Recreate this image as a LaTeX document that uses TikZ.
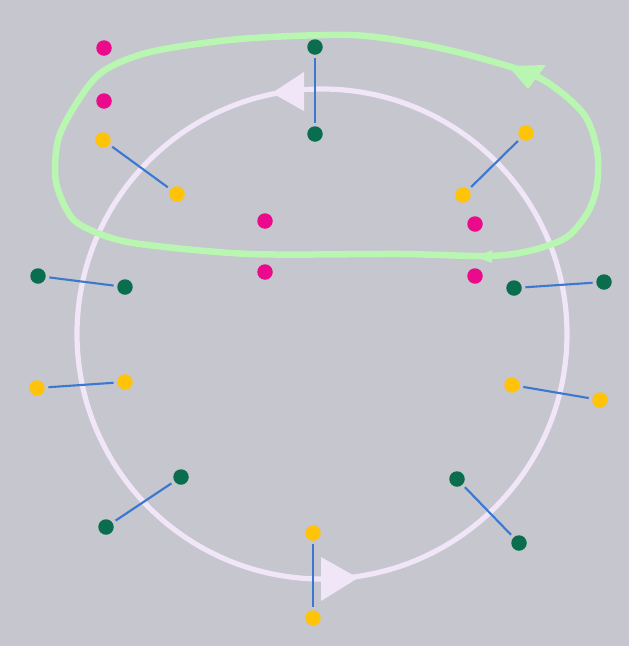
\documentclass[tikz,border=0pt]{standalone}
\usetikzlibrary{calc}
\definecolor{bg}{RGB}{197,198,206}
\definecolor{ringc}{RGB}{241,230,248}
\definecolor{loopc}{RGB}{185,246,177}
\definecolor{dgreen}{RGB}{10,110,78}
\definecolor{dyellow}{RGB}{255,195,10}
\definecolor{dmag}{RGB}{236,10,140}
\definecolor{linkc}{RGB}{58,120,210}
\tikzset{
  dot/.style={circle,inner sep=0pt,minimum size=15.5pt},
  gdot/.style={dot,fill=dgreen},
  ydot/.style={dot,fill=dyellow},
  mdot/.style={dot,fill=dmag},
  link/.style={draw=linkc,line width=2.1pt,shorten <=3.5pt,shorten >=3.5pt},
  ring/.style={draw=ringc,line width=5.2pt},
  ringtip/.style={fill=ringc},
  loopline/.style={draw=loopc,line width=6.5pt},
  looptip/.style={fill=loopc}
}
\begin{document}
\begin{tikzpicture}[x=1pt,y=-1pt]
\fill[bg] (0,0) rectangle (629,646);
\useasboundingbox (0,0) rectangle (629,646);
% big ring
\draw[ring] (322,334) circle[radius=245];
\fill[ringtip] (272,93) -- (304,72) -- (304,111) -- cycle;
\fill[ringtip] (358,578) -- (321,557) -- (321,601) -- cycle;
% green loop
\draw[loopline] plot[smooth cycle,tension=0.5] coordinates {
 (102,72) (150,52) (240,39) (350,35) (420,44) (480,58) (540,78) (583,113)
 (597,150) (597,185) (588,212) (567,237) (533,250) (490,256) (400,254)
 (250,254) (140,244) (100,234) (72,218) (56,182) (58,140) (76,104)};
\fill[looptip] (508,66) -- (546,65) -- (528,89) -- cycle;
\fill[looptip] (476,257) -- (492,250) -- (492,263) -- cycle;
% magenta dots
\node[mdot] (m1) at (104,48) {};
\node[mdot] (m2) at (104,101) {};
\node[mdot] (m3) at (265,221) {};
\node[mdot] (m4) at (265,272) {};
\node[mdot] (m5) at (475,224) {};
\node[mdot] (m6) at (475,276) {};
% green pairs
\node[gdot] (g1a) at (315,47) {};
\node[gdot] (g1b) at (315,134) {};
\node[gdot] (g2a) at (38,276) {};
\node[gdot] (g2b) at (125,287) {};
\node[gdot] (g3a) at (514,288) {};
\node[gdot] (g3b) at (604,282) {};
\node[gdot] (g4a) at (181,477) {};
\node[gdot] (g4b) at (106,527) {};
\node[gdot] (g5a) at (457,479) {};
\node[gdot] (g5b) at (519,543) {};
% yellow pairs
\node[ydot] (y1a) at (103,140) {};
\node[ydot] (y1b) at (177,194) {};
\node[ydot] (y2a) at (526,133) {};
\node[ydot] (y2b) at (463,195) {};
\node[ydot] (y3a) at (37,388) {};
\node[ydot] (y3b) at (125,382) {};
\node[ydot] (y4a) at (512,385) {};
\node[ydot] (y4b) at (600,400) {};
\node[ydot] (y5a) at (313,533) {};
\node[ydot] (y5b) at (313,618) {};
% links
\foreach \p in {g1,g2,g3,g4,g5,y1,y2,y3,y4,y5}
  \path[link] (\p a) -- (\p b);
\end{tikzpicture}
\end{document}
